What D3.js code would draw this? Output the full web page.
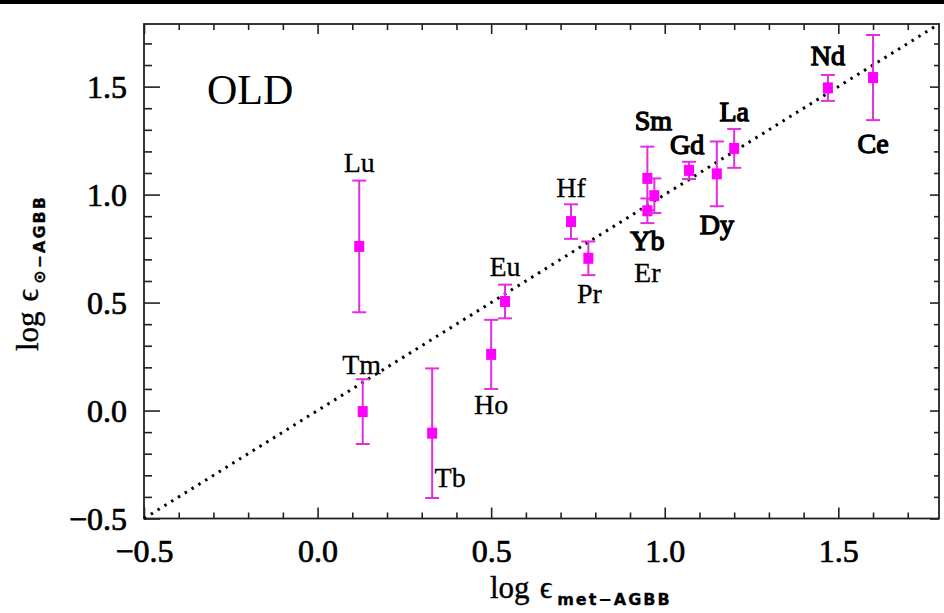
<!DOCTYPE html>
<html>
<head>
<meta charset="utf-8">
<script src="https://cdn.jsdelivr.net/npm/d3@7"></script>
<style>
  html, body { margin: 0; padding: 0; background: #fff; }
  svg { display: block; }
</style>
</head>
<body>
<svg id="chart" width="944" height="613"></svg>
<script>
// Rare-earth abundances: metal-poor AGB prediction vs. solar AGB component
const elements = ["Lu", "Tm", "Tb", "Ho", "Eu", "Pr", "Hf", "Sm", "Yb", "Er", "Gd", "Dy", "La", "Nd", "Ce"];
const logEpsMet = [0.12, 0.13, 0.33, 0.50, 0.54, 0.78, 0.73, 0.95, 0.95, 0.97, 1.07, 1.15, 1.20, 1.47, 1.60];
const logEpsSun = [0.76, -0.005, -0.105, 0.26, 0.505, 0.705, 0.875, 1.075, 0.925, 0.995, 1.112, 1.096, 1.214, 1.494, 1.542];
const logEpsErr = [0.305, 0.15, 0.30, 0.16, 0.078, 0.078, 0.08, 0.147, 0.057, 0.08, 0.04, 0.15, 0.09, 0.06, 0.197];

const majorTicks = [-0.5, 0.0, 0.5, 1.0, 1.5];
const tickLabels = ["\u22120.5", "0.0", "0.5", "1.0", "1.5"];
const axisDomain = [-0.5, 1.79];

// label placement (pixel offsets of label centre/baseline from the marker)
const labelOffset = {
  Lu: [0, -74], Tm: [-1, -38], Tb: [18, 54], Ho: [0, 60], Eu: [0, -25],
  Pr: [1, 45], Hf: [0, -25], Sm: [6, -48], Yb: [0, 39], Er: [-7, 86],
  Gd: [-2, -16], Dy: [0, 60], La: [0, -27], Nd: [0, -23], Ce: [0, 75]
};
const heavyLabels = new Set(["Sm", "Gd", "Nd", "Ce", "Dy", "Yb", "La"]);

const svg = d3.select("#chart");
const L = 144, R = 939, T = 24, B = 518.5;

const x = d3.scaleLinear().domain(axisDomain).range([L, R]);
const y = d3.scaleLinear().domain(axisDomain).range([B, T]);

const serif = "'Liberation Serif', 'DejaVu Serif', serif";
const magenta = "#e02ee0";

// strip along the top edge
svg.append("rect").attr("x", 0).attr("y", 0).attr("width", 944).attr("height", 4).attr("fill", "#000");

// axes with major + minor ticks
const minor = d3.range(-0.5, 1.791, 0.1).map(v => Math.round(v * 10) / 10).filter(v => !majorTicks.includes(v));
function drawAxis(makeAxis, tx, ty, majLen, minLen, withLabels) {
  const g = svg.append("g").attr("transform", `translate(${tx},${ty})`);
  g.call(makeAxis().tickValues(majorTicks).tickSizeInner(majLen).tickSizeOuter(0)
        .tickFormat((d, i) => withLabels ? tickLabels[i] : ""));
  g.call(gg => gg.select(".domain").remove());
  g.selectAll(".tick line").attr("stroke", "#222").attr("stroke-width", 1.6);
  const gm = svg.append("g").attr("transform", `translate(${tx},${ty})`);
  gm.call(makeAxis().tickValues(minor).tickSizeInner(minLen).tickSizeOuter(0).tickFormat(""));
  gm.call(gg => gg.select(".domain").remove());
  gm.selectAll(".tick line").attr("stroke", "#222").attr("stroke-width", 1.6);
  return g;
}
const tickText = sel => sel.attr("font-family", serif).attr("font-size", 32)
  .attr("fill", "#000").attr("stroke", "#000").attr("stroke-width", 0.7);
const gx = drawAxis(() => d3.axisBottom(x), 0, B, -11, -6, true);
gx.selectAll(".tick text").call(tickText).attr("dy", 0).attr("y", 43);
drawAxis(() => d3.axisTop(x), 0, T, -10, -6, false);
const gy = drawAxis(() => d3.axisLeft(y), L, 0, -16, -8, true);
gy.selectAll(".tick text").call(tickText).attr("x", -17).attr("dy", "0.34em");
drawAxis(() => d3.axisRight(y), R, 0, -9, -5, false);

svg.append("rect").attr("x", L).attr("y", T).attr("width", R - L).attr("height", B - T)
  .attr("fill", "none").attr("stroke", "#222").attr("stroke-width", 1.8);

// one-to-one line
svg.append("line")
  .attr("x1", x(axisDomain[0])).attr("y1", y(axisDomain[0]))
  .attr("x2", x(axisDomain[1])).attr("y2", y(axisDomain[1]))
  .attr("stroke", "#000").attr("stroke-width", 3).attr("stroke-dasharray", "2.5 5.5");

// "OLD" panel tag
svg.append("text").attr("x", 207).attr("y", 104).attr("font-family", serif)
  .attr("font-size", 42).attr("fill", "#000").text("OLD");

// error bars and markers
const pts = elements.map((e, i) => ({ e, xv: logEpsMet[i], yv: logEpsSun[i], er: logEpsErr[i] }));
const g = svg.append("g");
pts.forEach(p => {
  const cx = x(p.xv), y0 = y(p.yv - p.er), y1 = y(p.yv + p.er);
  g.append("line").attr("x1", cx).attr("x2", cx).attr("y1", y0).attr("y2", y1)
    .attr("stroke", magenta).attr("stroke-width", 2);
  [y0, y1].forEach(yy => g.append("line").attr("x1", cx - 7).attr("x2", cx + 7)
    .attr("y1", yy).attr("y2", yy).attr("stroke", magenta).attr("stroke-width", 2));
  g.append("rect").attr("x", cx - 5).attr("y", y(p.yv) - 5.5).attr("width", 10).attr("height", 11)
    .attr("fill", "#ff00ff");
});

// element labels
pts.forEach(p => {
  const off = labelOffset[p.e];
  svg.append("text").attr("x", x(p.xv) + off[0]).attr("y", y(p.yv) + off[1])
    .attr("text-anchor", "middle").attr("font-family", serif).attr("font-size", 28)
    .attr("fill", "#000")
    .attr("stroke", "#000").attr("stroke-width", heavyLabels.has(p.e) ? 1.3 : 0.3)
    .text(p.e);
});

// axis titles
const sub = "'DejaVu Sans', sans-serif";
function axisTitle(sel, subText) {
  sel.attr("font-family", serif).attr("font-size", 31).attr("fill", "#000")
    .attr("stroke", "#000").attr("stroke-width", 0.4);
  sel.append("tspan").text("log");
  sel.append("tspan").attr("dx", 10).text("\u03f5");
  sel.append("tspan").attr("font-family", sub).attr("font-size", 16).attr("font-weight", "bold")
    .attr("stroke-width", 0.3).attr("letter-spacing", 2)
    .attr("dy", 7).attr("dx", 5).text(subText);
}
svg.append("text").attr("x", 490).attr("y", 598).call(axisTitle, "met\u2212AGBB");
svg.append("text").attr("transform", "translate(38,351) rotate(-90)").call(axisTitle, "\u2299\u2212AGBB");
</script>
</body>
</html>
